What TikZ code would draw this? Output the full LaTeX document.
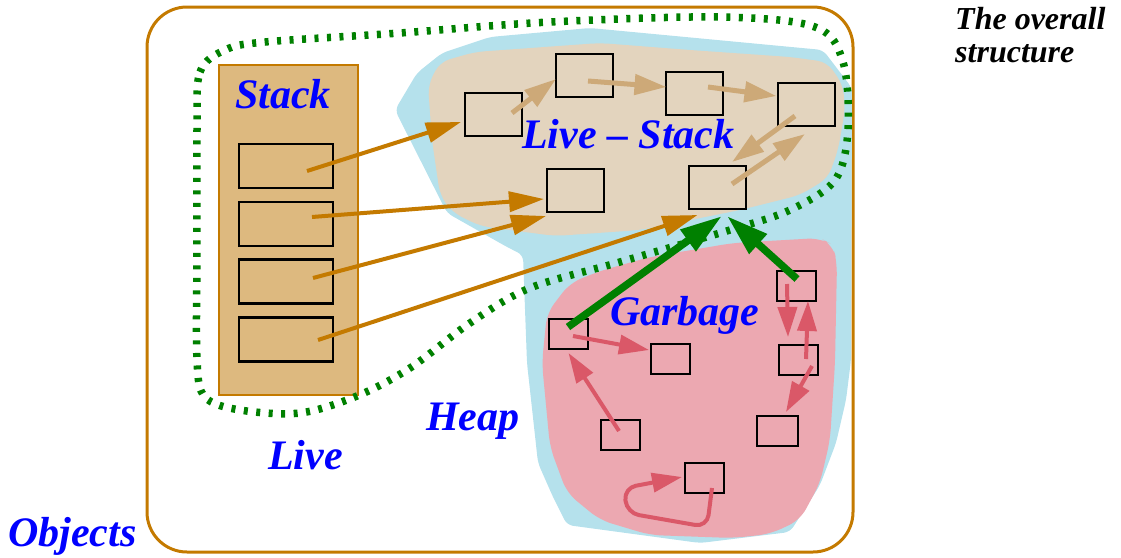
\documentclass[tikz,border=0pt]{standalone}
\usepackage{fontspec}
\setmainfont{Liberation Serif}
\usetikzlibrary{arrows.meta,calc}
\definecolor{ochre}{RGB}{196,122,0}
\definecolor{stackfill}{RGB}{221,185,127}
\definecolor{livefill}{RGB}{227,212,190}
\definecolor{liveline}{RGB}{205,169,120}
\definecolor{heapfill}{RGB}{181,225,236}
\definecolor{garbfill}{RGB}{236,168,177}
\definecolor{garbline}{RGB}{218,88,104}
\definecolor{livegreen}{RGB}{0,128,0}
\tikzset{
  label/.style={text=blue, font=\fontsize{42}{46}\selectfont\bfseries\itshape, inner sep=0pt, anchor=base west},
  title/.style={text=black, font=\fontsize{32}{34}\selectfont\bfseries\itshape, inner sep=0pt, anchor=base west},
  slot/.style={draw=black, line width=2.3pt, minimum width=94pt, minimum height=44pt, inner sep=0pt},
  obj/.style={draw=black, line width=2pt, minimum width=57pt, minimum height=43pt, inner sep=0pt},
  gobj/.style={draw=black, line width=2pt, minimum width=39pt, minimum height=30pt, inner sep=0pt},
  oarrow/.style={ochre, line width=4pt, -{Triangle[length=35pt,width=20pt]}},
  tarrow/.style={liveline, line width=5pt, -{Triangle[length=32pt,width=20pt]}},
  garrow/.style={livegreen, line width=7.5pt, -{Triangle[length=42pt,width=25pt]}},
  parrow/.style={garbline, line width=4pt, -{Triangle[length=30pt,width=19pt]}},
}
\begin{document}
\begin{tikzpicture}[x=1pt,y=-1pt]
\useasboundingbox (0,0) rectangle (1121,557);

% the whole object space
\draw[ochre, line width=3pt, rounded corners=40pt] (147,7) rectangle (853,552);

% heap region
\fill[heapfill, rounded corners=6pt] (395,110) -- (417,73) -- (442,53) -- (490,37) -- (590,28)
  -- (823,50) -- (852,88) -- (851,360) -- (846,400) -- (836,443) -- (820,485) -- (790,532)
  -- (700,543) -- (567,525) -- (553,497) -- (538,463) -- (527,363) -- (523,255) -- (507,247)
  -- (447,213) -- cycle;

% live objects reachable from the stack
\fill[livefill, rounded corners=10pt] (428,85) -- (440,62) -- (475,52) -- (600,43) -- (690,50)
  -- (790,57) -- (827,62) -- (843,85) -- (845,110) -- (838,150) -- (828,178) -- (800,195)
  -- (740,210) -- (640,230) -- (555,236) -- (480,226) -- (452,212) -- (440,195) -- (432,140) -- cycle;

% garbage region
\fill[garbfill, rounded corners=12pt] (570,283) -- (600,271) -- (650,257) -- (733,243) -- (820,238)
  -- (833,245) -- (837,263) -- (835,363) -- (830,440) -- (820,483) -- (800,520) -- (770,534)
  -- (733,538) -- (650,535) -- (600,520) -- (567,493) -- (550,447) -- (542,363) -- (547,313) -- cycle;

% the stack
\draw[ochre, line width=1.5pt, fill=stackfill] (219,65) rectangle (358,395);
\node[slot, fill=stackfill] (s1) at (286,166) {};
\node[slot, fill=stackfill] (s2) at (286,224) {};
\node[slot, fill=stackfill] (s3) at (286,281.5) {};
\node[slot, fill=stackfill] (s4) at (286,339.5) {};

% live objects
\node[obj] (A) at (493.5,114.5) {};
\node[obj] (B) at (584.5,75.5) {};
\node[obj] (C) at (694,93.5) {};
\node[obj] (D) at (806,104.5) {};
\node[obj] (E) at (575.5,190.5) {};
\node[obj] (F) at (717,187.5) {};

% garbage objects
\node[gobj] (G1) at (568.5,334) {};
\node[gobj] (G2) at (670.5,359) {};
\node[gobj] (G3) at (796,286) {};
\node[gobj] (G4) at (798.5,360) {};
\node[gobj, minimum width=41pt] (G5) at (777.5,431) {};
\node[gobj] (G6) at (620.5,435) {};
\node[gobj] (G7) at (704.5,478) {};

% boundary of the live set
\draw[livegreen, line width=7.5pt, dash pattern=on 4pt off 8.5pt]
  plot[smooth cycle, tension=0.55] coordinates {
    (197,130) (200,72) (225,50) (265,42) (400,33) (550,22) (720,17) (815,27) (843,62)
    (848,130) (835,180) (790,210) (730,230) (620,262) (530,288) (470,323) (410,368)
    (357,396) (300,413) (240,410) (205,397) (197,360) (197,250)};

% stack references
\draw[oarrow] ($(s1.center)+(21,5)$) -- ($(A.west)+(-3,7.5)$);
\draw[oarrow] ($(s2.center)+(26,-7)$) -- ($(E.west)+(-2,8.5)$);
\draw[oarrow] ($(s3.center)+(27,-3.5)$) -- ($(E.south west)+(0,3)$);
\draw[oarrow] ($(s4.center)+(32,0.5)$) -- ($(F.south west)+(10,5)$);

% references among live objects
\draw[tarrow] ($(A.center)+(18.5,-1.5)$) -- ($(B.west)+(1,3.5)$);
\draw[tarrow] ($(B.center)+(3.5,5.5)$) -- ($(C.west)+(2,-6.5)$);
\draw[tarrow] ($(C.center)+(14,-6.5)$) -- ($(D.west)+(0,-8.5)$);
\draw[tarrow] ($(D.center)+(-11,11.5)$) -- ($(F.north)+(15,-3)$);
\draw[tarrow] ($(F.center)+(15,-3.5)$) -- ($(D.south)+(-1,7)$);

% garbage pointing into live objects
\draw[garrow] ($(G1.center)+(-0.5,-7)$) -- ($(F.south)+(5,6)$);
\draw[garrow] ($(G3.center)+(1,-7)$) -- ($(F.south)+(10,6)$);

% references among garbage
\draw[parrow] ($(G1.center)+(4.5,2)$) -- ($(G2.west)+(-1,-9)$);
\draw[parrow] ($(G6.center)+(-1.5,-4)$) -- ($(G1.south)+(0,3)$);
\draw[parrow] ($(G3.center)+(-9,-2)$) -- ($(G4.north)+(-10.5,-7)$);
\draw[parrow] ($(G4.center)+(7.5,-1)$) -- ($(G3.south)+(12,-1)$);
\draw[parrow] ($(G4.center)+(13.5,6)$) -- ($(G5.north)+(8.5,-3)$);
\draw[parrow, rounded corners=12pt] ($(G7.center)+(7.5,10)$) -- (707,527) -- (627,513) -- (624,488)
  -- ($(G7.west)+(-2,-1)$);

% labels
\node[label] (lstack) at (235,108) {Stack};
\node[label] (llivestack) at (522,148) {Live – Stack};
\node[label] (lgarbage) at (610,325) {Garbage};
\node[label] (lheap) at (426,430) {Heap};
\node[label] (llive) at (268,469) {Live};
\node[label] (lobjects) at (8,546) {Objects};
\node[title] (t1) at (955,29) {The overall};
\node[title] (t2) at (955,62) {structure};
\end{tikzpicture}
\end{document}
